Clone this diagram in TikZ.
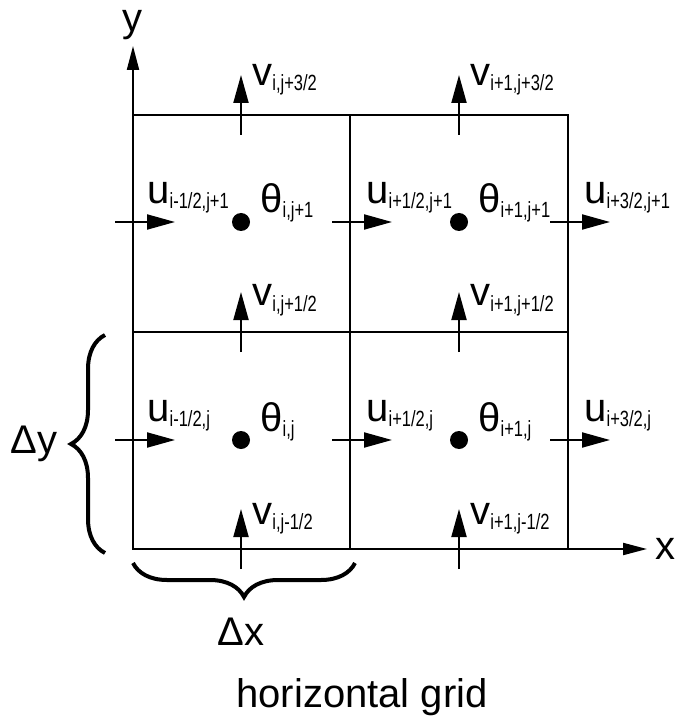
\documentclass[tikz,border=0pt]{standalone}
\usepackage{fontspec}
\setmainfont{Liberation Sans}
\usepackage{graphicx}
\usetikzlibrary{arrows.meta}
\usetikzlibrary{decorations.pathreplacing}

\newcommand{\ix}[1]{\raisebox{-2.5pt}{\scalebox{0.75}[1]{\fontsize{11}{11}\selectfont #1}}}

\begin{document}
\begin{tikzpicture}[x=0.5pt,y=-0.5pt,
  gridline/.style={line width=1pt},
  flux/.style={line width=1pt,-{Triangle[length=14pt,width=7.5pt]}},
  axis/.style={line width=1pt,-{Triangle[length=12pt,width=6pt]}},
  lab/.style={inner sep=0pt,anchor=base west},
  dot/.style={circle,fill,inner sep=0pt,minimum size=9pt},
  bracket/.style={decorate,decoration={brace,amplitude=17pt},line width=2pt}]
\fontsize{20}{24}\selectfont
\useasboundingbox (0,0) rectangle (676,721);

% grid cells
\draw[gridline] (133,115) rectangle (568,549);
\draw[gridline] (350,115) -- (350,549);
\draw[gridline] (133,332) -- (568,332);

% axes
\coordinate (o) at (133,549);
\coordinate (xtip) at (647,549);
\coordinate (ytip) at (133,46);
\draw[axis] (o) -- (xtip);
\draw[axis] (o) -- (ytip);
\node (xlab) at (665,549) {x};
\node (ylab) at (132,25) {y};

% faces where u and v live
\coordinate (ua1) at (133,222);
\coordinate (ub1) at (350,222);
\coordinate (uc1) at (568,222);
\coordinate (ua0) at (133,440);
\coordinate (ub0) at (350,440);
\coordinate (uc0) at (568,440);
\coordinate (va2) at (241,115);
\coordinate (va1) at (241,332);
\coordinate (va0) at (241,549);
\coordinate (vb2) at (459,115);
\coordinate (vb1) at (459,332);
\coordinate (vb0) at (459,549);

\draw[flux] ([xshift=-9pt]ua1) -- ([xshift=21pt]ua1);
\draw[flux] ([xshift=-9pt]ub1) -- ([xshift=21pt]ub1);
\draw[flux] ([xshift=-9pt]uc1) -- ([xshift=21pt]uc1);
\draw[flux] ([xshift=-9pt]ua0) -- ([xshift=21pt]ua0);
\draw[flux] ([xshift=-9pt]ub0) -- ([xshift=21pt]ub0);
\draw[flux] ([xshift=-9pt]uc0) -- ([xshift=21pt]uc0);
\draw[flux] ([yshift=-10pt]va2) -- ([yshift=20pt]va2);
\draw[flux] ([yshift=-10pt]va1) -- ([yshift=20pt]va1);
\draw[flux] ([yshift=-10pt]va0) -- ([yshift=20pt]va0);
\draw[flux] ([yshift=-10pt]vb2) -- ([yshift=20pt]vb2);
\draw[flux] ([yshift=-10pt]vb1) -- ([yshift=20pt]vb1);
\draw[flux] ([yshift=-10pt]vb0) -- ([yshift=20pt]vb0);

% cell centres
\node[dot] (ta1) at (241,222) {};
\node[dot] (tb1) at (459,222) {};
\node[dot] (ta0) at (241,440) {};
\node[dot] (tb0) at (459,440) {};

\node[lab] (lua1) at (147,204) {u\ix{i-1/2,j+1}};
\node[lab] (lub1) at (366,204) {u\ix{i+1/2,j+1}};
\node[lab] (luc1) at (584,204) {u\ix{i+3/2,j+1}};
\node[lab] (lua0) at (147,421) {u\ix{i-1/2,j}};
\node[lab] (lub0) at (366,421) {u\ix{i+1/2,j}};
\node[lab] (luc0) at (584,421) {u\ix{i+3/2,j}};

\node[lab] (lta1) at (260,213) {θ\ix{i,j+1}};
\node[lab] (ltb1) at (478,213) {θ\ix{i+1,j+1}};
\node[lab] (lta0) at (260,431) {θ\ix{i,j}};
\node[lab] (ltb0) at (478,431) {θ\ix{i+1,j}};

\node[lab] (lva2) at (252,86) {v\ix{i,j+3/2}};
\node[lab] (lvb2) at (470,86) {v\ix{i+1,j+3/2}};
\node[lab] (lva1) at (252,306) {v\ix{i,j+1/2}};
\node[lab] (lvb1) at (470,306) {v\ix{i+1,j+1/2}};
\node[lab] (lva0) at (252,524) {v\ix{i,j-1/2}};
\node[lab] (lvb0) at (470,524) {v\ix{i+1,j-1/2}};

% spacings
\coordinate (bxl) at (133,563);
\coordinate (bxr) at (355,563);
\coordinate (byb) at (105,553);
\coordinate (byt) at (105,335);
\draw[bracket] (bxr) -- (bxl);
\draw[bracket] (byb) -- (byt);
\node (dx) at (241,632) {Δx};
\node (dy) at (34,444) {Δy};

\node[anchor=base] (title) at (362,707) {horizontal grid};
\end{tikzpicture}
\end{document}
